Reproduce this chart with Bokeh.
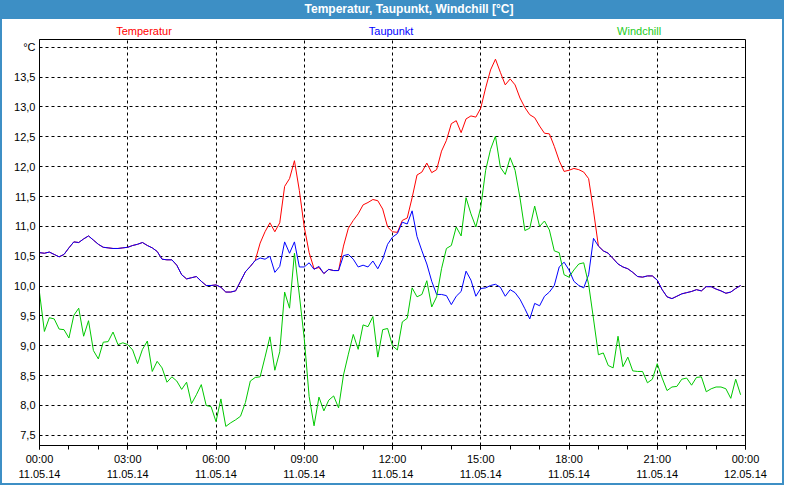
from bokeh.plotting import figure
from bokeh.models import Range1d, FixedTicker, Div
from bokeh.layouts import column
from bokeh.embed import file_html
from bokeh.resources import INLINE

# ---- data (10-minute samples, 11.05.14 00:00 .. 23:50) ----
hours = [i / 6 for i in range(144)]

temperatur = [
    10.56, 10.55, 10.57, 10.53, 10.49, 10.53, 10.64, 10.74, 10.73, 10.79, 10.84, 10.77,
    10.70, 10.65, 10.64, 10.63, 10.63, 10.64, 10.65, 10.68, 10.70, 10.73, 10.68, 10.64,
    10.58, 10.45, 10.44, 10.44, 10.35, 10.19, 10.12, 10.14, 10.16, 10.08, 10.01, 10.01,
    10.02, 9.98, 9.90, 9.90, 9.92, 10.08, 10.24, 10.33, 10.43, 10.72, 10.91, 11.06,
    10.91, 11.06, 11.67, 11.80, 12.10, 11.60, 10.99, 10.56, 10.29, 10.31, 10.21, 10.28,
    10.26, 10.26, 10.67, 10.97, 11.10, 11.21, 11.36, 11.40, 11.45, 11.43, 11.29, 10.99,
    10.91, 10.90, 11.10, 11.14, 11.48, 11.86, 11.91, 12.06, 11.90, 11.95, 12.26, 12.44,
    12.72, 12.77, 12.57, 12.80, 12.85, 12.83, 12.98, 13.32, 13.62, 13.80, 13.58, 13.37,
    13.47, 13.37, 13.15, 12.99, 12.87, 12.82, 12.68, 12.56, 12.55, 12.34, 12.10, 11.92,
    11.94, 11.97, 11.95, 11.91, 11.80, 11.26, 10.67, 10.59, 10.55, 10.46, 10.37, 10.32,
    10.29, 10.23, 10.16, 10.15, 10.17, 10.17, 10.10, 9.94, 9.82, 9.79, 9.83, 9.87,
    9.89, 9.91, 9.94, 9.92, 9.99, 9.99, 9.95, 9.92, 9.88, 9.90, 9.96, 10.01,
]

taupunkt = [
    10.56, 10.55, 10.57, 10.53, 10.49, 10.53, 10.64, 10.74, 10.73, 10.79, 10.84, 10.77,
    10.70, 10.65, 10.64, 10.63, 10.63, 10.64, 10.65, 10.68, 10.70, 10.73, 10.68, 10.64,
    10.58, 10.45, 10.44, 10.44, 10.35, 10.19, 10.12, 10.14, 10.16, 10.08, 10.01, 10.01,
    10.02, 9.98, 9.90, 9.90, 9.92, 10.08, 10.24, 10.33, 10.43, 10.47, 10.45, 10.50,
    10.23, 10.33, 10.74, 10.55, 10.74, 10.32, 10.32, 10.39, 10.28, 10.33, 10.21, 10.28,
    10.26, 10.26, 10.51, 10.53, 10.45, 10.32, 10.35, 10.32, 10.42, 10.29, 10.45, 10.70,
    10.82, 10.88, 11.07, 11.04, 11.26, 10.83, 10.59, 10.37, 10.08, 9.86, 9.86, 9.84,
    9.69, 9.83, 9.91, 10.25, 10.10, 9.83, 9.96, 9.97, 10.01, 10.03, 9.98, 9.83,
    9.94, 9.89, 9.78, 9.62, 9.45, 9.71, 9.67, 9.83, 9.90, 10.01, 10.32, 10.40,
    10.27, 10.08, 10.01, 9.97, 10.19, 10.80, 10.67, 10.59, 10.55, 10.46, 10.37, 10.32,
    10.29, 10.23, 10.16, 10.15, 10.17, 10.17, 10.10, 9.94, 9.82, 9.79, 9.83, 9.87,
    9.89, 9.91, 9.94, 9.92, 9.99, 9.99, 9.95, 9.92, 9.88, 9.90, 9.96, 10.01,
]

windchill = [
    9.89, 9.24, 9.47, 9.45, 9.28, 9.27, 9.13, 9.51, 9.63, 9.16, 9.42, 8.92,
    8.78, 9.06, 9.07, 9.23, 9.02, 9.05, 9.02, 8.93, 8.70, 8.94, 9.08, 8.57,
    8.74, 8.63, 8.39, 8.48, 8.41, 8.27, 8.39, 8.03, 8.18, 8.35, 8.00, 7.98,
    7.73, 8.11, 7.65, 7.71, 7.76, 7.82, 8.05, 8.41, 8.47, 8.48, 8.81, 9.15,
    8.59, 8.90, 9.90, 9.63, 10.55, 9.85, 9.12, 8.15, 7.66, 8.14, 7.91, 8.09,
    8.16, 7.96, 8.51, 8.86, 9.19, 8.94, 9.35, 9.32, 9.49, 8.81, 9.27, 9.29,
    9.00, 8.93, 9.40, 9.46, 9.97, 9.82, 9.86, 10.09, 9.65, 9.82, 10.29, 10.63,
    10.68, 10.99, 10.84, 11.48, 11.21, 10.99, 11.32, 11.94, 12.29, 12.51, 11.99, 11.87,
    12.15, 11.94, 11.48, 10.93, 10.97, 11.34, 11.00, 11.09, 10.94, 10.59, 10.56, 10.19,
    10.15, 10.27, 10.37, 10.39, 10.03, 9.45, 8.85, 8.88, 8.67, 8.63, 9.16, 8.65,
    8.81, 8.58, 8.57, 8.57, 8.38, 8.44, 8.70, 8.46, 8.25, 8.31, 8.32, 8.44,
    8.46, 8.34, 8.47, 8.48, 8.23, 8.28, 8.31, 8.31, 8.28, 8.12, 8.44, 8.18,
]

x_ticks = [0, 3, 6, 9, 12, 15, 18, 21, 24]
x_tick_labels = ["00:00\n11.05.14", "03:00\n11.05.14", "06:00\n11.05.14",
                 "09:00\n11.05.14", "12:00\n11.05.14", "15:00\n11.05.14",
                 "18:00\n11.05.14", "21:00\n11.05.14", "00:00\n12.05.14"]
x_minor = list(range(25))
y_ticks = [7.5, 8.0, 8.5, 9.0, 9.5, 10.0, 10.5, 11.0, 11.5, 12.0, 12.5, 13.0, 13.5, 14.0]
y_tick_labels = ["7,5", "8,0", "8,5", "9,0", "9,5", "10,0", "10,5", "11,0",
                 "11,5", "12,0", "12,5", "13,0", "13,5", "°C"]

title_text = "Temperatur, Taupunkt, Windchill [°C]"
series_names = ["Temperatur", "Taupunkt", "Windchill"]
series_colors = ["#ff0000", "#0000ff", "#00c800"]
label_colors = ["#ff0000", "#0000ff", "#22cc22"]
label_hours = [3.57, 11.97, 20.4]

TITLE_BLUE = "#3d8fc5"
FONT = "Liberation Sans"

# layout sizes (content 784 x 484 incl. 2px border)
INNER_W = 780
HEADER_H = 38
BAR_H = 19
B_LEFT, B_RIGHT, B_TOP, B_BOTTOM = 37, 37, 1, 37
FRAME_W, FRAME_H = 706, 406
X0, X1 = 0, 24

# header: title bar + series names (HTML text)
spans = []
for name, c, h in zip(series_names, label_colors, label_hours):
    px = B_LEFT + (h - X0) / (X1 - X0) * FRAME_W
    spans.append(
        f'<span style="position:absolute;left:{px:.1f}px;top:25px;transform:translateX(-50%);'
        f'color:{c};font-family:\'{FONT}\';font-size:11px;line-height:12px;white-space:nowrap;">{name}</span>'
    )
header_html = (
    f'<div style="position:relative;width:{INNER_W}px;height:{HEADER_H}px;background:white;">'
    f'<div style="position:absolute;left:0;top:0;width:{INNER_W}px;height:{BAR_H}px;'
    f'background:{TITLE_BLUE};color:white;font-family:\'{FONT}\';font-weight:bold;font-size:12px;'
    f'line-height:{BAR_H}px;text-align:center;padding-left:34px;box-sizing:border-box;">{title_text}</div>'
    + "".join(spans) + '</div>'
)
header = Div(text=header_html, width=INNER_W, height=HEADER_H, margin=0)

p = figure(
    frame_width=FRAME_W, frame_height=FRAME_H,
    x_range=Range1d(X0, X1), y_range=Range1d(7.33, 14.13),
    output_backend="svg", toolbar_location=None,
    min_border_left=B_LEFT, min_border_right=B_RIGHT,
    min_border_top=B_TOP, min_border_bottom=B_BOTTOM,
    background_fill_color="white", border_fill_color="white", margin=0,
)
p.outline_line_color = "black"
p.outline_line_alpha = 1.0
p.outline_line_width = 1

for ys, c in zip([temperatur, taupunkt, windchill], series_colors):
    p.line(hours, ys, line_color=c, line_width=1)

# axes
p.xaxis.ticker = FixedTicker(ticks=x_ticks, minor_ticks=x_minor)
p.xaxis.major_label_overrides = dict(zip(x_ticks, x_tick_labels))
p.xaxis.major_tick_out = 4
p.xaxis.major_tick_in = 0
p.xaxis.minor_tick_out = 4
p.xaxis.minor_tick_in = 0
p.xaxis.major_label_standoff = 3
p.xaxis.major_label_text_line_height = 1.3

p.yaxis.ticker = FixedTicker(ticks=y_ticks, minor_ticks=[])
p.yaxis.major_label_overrides = dict(zip(y_ticks, y_tick_labels))
p.yaxis.major_tick_out = 0
p.yaxis.major_tick_in = 0
p.yaxis.minor_tick_out = 0
p.yaxis.minor_tick_in = 0
p.yaxis.major_label_standoff = 4

for ax in (p.xaxis[0], p.yaxis[0]):
    ax.axis_line_color = "black"
    ax.major_tick_line_color = "black"
    ax.minor_tick_line_color = "black"
    ax.major_label_text_font = FONT
    ax.major_label_text_font_size = "11px"
    ax.major_label_text_color = "black"

for g in (p.xgrid[0], p.ygrid[0]):
    g.grid_line_color = "black"
    g.grid_line_dash = "3 3"
    g.grid_line_width = 1

layout = column(header, p, spacing=0,
                styles={"border-left": "2px solid " + TITLE_BLUE,
                        "border-right": "2px solid " + TITLE_BLUE,
                        "border-bottom": "2px solid " + TITLE_BLUE,
                        "background-color": "white"})

open("out.html", "w").write(file_html(layout, INLINE))
